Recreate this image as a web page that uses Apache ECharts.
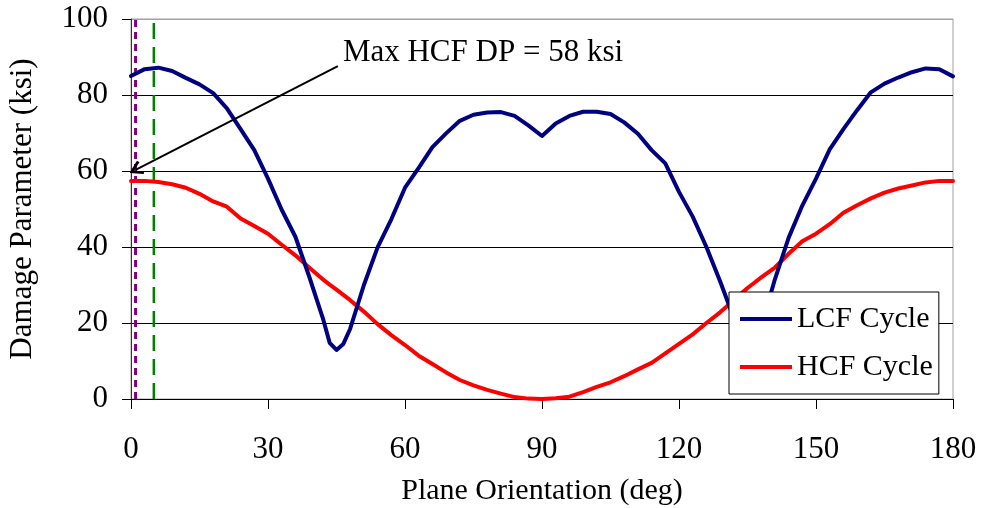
<!DOCTYPE html>
<html>
<head>
<meta charset="utf-8">
<script src="https://cdn.jsdelivr.net/npm/echarts@6/dist/echarts.min.js"></script>
<style>
html,body{margin:0;padding:0;background:#fff;}
#chart{width:983px;height:508px;}
</style>
</head>
<body>
<div id="chart"></div>
<script>
const angles = [0,3,6,9,12,15,18,21,24,27,30,33,36,39,42,43.5,45,46.5,48,51,54,57,60,63,66,69,72,75,78,81,84,87,90,93,96,99,102,105,108,111,114,117,120,123,126,129,132,133.5,135,136.5,138,141,144,147,150,153,156,159,162,165,168,171,174,177,180];
const lcfValues = [85,86.8,87.2,86.3,84.5,82.8,80.5,76.5,71,65.5,58,49.8,42.7,32.3,21.3,14.8,12.9,14.5,18.5,30,39.9,47.3,55.6,60.8,66.3,69.9,73.2,74.8,75.4,75.5,74.5,72,69.2,72.5,74.5,75.6,75.6,75,72.8,69.8,65.5,62,54.5,48,40,31,21.3,14.8,12.9,14.5,19,31.5,42.4,50.9,58,65.7,71,76,80.7,83,84.6,86,87,86.8,84.9];
const hcfValues = [57.4,57.4,57.1,56.5,55.6,54,52,50.6,47.5,45.5,43.5,40.6,37.8,34.6,31.5,30.1,28.8,27.4,26,23,19.7,16.8,14.2,11.4,9.2,7,5,3.6,2.4,1.4,0.5,0.1,0,0.2,0.6,1.8,3.2,4.4,6,7.8,9.5,12,14.5,17,20,22.8,26,27.6,29.2,30.6,32,34.6,38.2,41.5,43.5,46,49,51,52.8,54.3,55.4,56.2,57,57.4,57.4];
const xTicks = [0,30,60,90,120,150,180];
const yTicks = [0,20,40,60,80,100];
const purpleMarkerAngle = 1;
const greenMarkerAngle = 5;
const annotationText = 'Max HCF DP = 58 ksi';
const arrowFrom = [45.3, 87.6];
const arrowTo = [1, 60.3];
const labelAnchor = [46.4, 91];

const FONT = '"Liberation Serif", "Times New Roman", serif';
const chart = echarts.init(document.getElementById('chart'), null, {renderer:'canvas'});
const pair = (xs, ys) => xs.map((x,i)=>[x, ys[i]]);

chart.setOption({
  animation:false,
  backgroundColor:'#fff',
  textStyle:{fontFamily:FONT},
  grid:{left:131,right:30,top:19,bottom:109,show:true,containLabel:false,outerBoundsMode:'none',borderColor:'#a0a0a0',borderWidth:1,backgroundColor:'transparent'},
  legend:{
    orient:'vertical', left:729, top:292,
    data:['LCF Cycle','HCF Cycle'],
    icon:'rect', itemWidth:52, itemHeight:4, itemGap:18,
    padding:[12,6,12,11],
    backgroundColor:'#fff', borderColor:'#000', borderWidth:1,
    textStyle:{fontFamily:FONT,fontSize:30,color:'#000'},
    z:20
  },
  xAxis:{
    type:'value', min:xTicks[0], max:xTicks[xTicks.length-1], interval:30,
    name:'Plane Orientation (deg)', nameLocation:'middle', nameGap:77,
    nameTextStyle:{fontFamily:FONT,fontSize:30,color:'#000'},
    axisLine:{show:true,onZero:false,lineStyle:{color:'#000',width:1}},
    axisTick:{show:true,inside:false,length:10,lineStyle:{color:'#000'}},
    axisLabel:{fontFamily:FONT,fontSize:31,color:'#000',margin:35},
    splitLine:{show:false}
  },
  yAxis:{
    type:'value', min:yTicks[0], max:yTicks[yTicks.length-1], interval:20,
    name:'Damage Parameter (ksi)', nameLocation:'middle', nameGap:93,
    nameTextStyle:{fontFamily:FONT,fontSize:31,color:'#000'},
    axisLine:{show:true,lineStyle:{color:'#333',width:1}},
    axisTick:{show:true,inside:false,length:9,lineStyle:{color:'#000'}},
    axisLabel:{fontFamily:FONT,fontSize:31,color:'#000',margin:23},
    splitLine:{show:true,lineStyle:{color:['#000','#000','#000','#000','#000','#a0a0a0'],width:1}}
  },
  series:[
    {
      name:'purpleMarker', type:'line', data:[[purpleMarkerAngle,0],[purpleMarkerAngle,100]],
      showSymbol:false, symbol:'none', silent:true, z:3,
      lineStyle:{color:'#800080',width:3,type:[7,5]}
    },
    {
      name:'greenMarker', type:'line', data:[[greenMarkerAngle,0],[greenMarkerAngle,100]],
      showSymbol:false, symbol:'none', silent:true, z:3,
      lineStyle:{color:'#008000',width:2.5,type:[16,8]}
    },
    {
      name:'LCF Cycle', type:'line', data:pair(angles,lcfValues),
      showSymbol:false, symbol:'none', smooth:false, z:5,
      lineStyle:{color:'#000080',width:4,join:'round',cap:'round'}, itemStyle:{color:'#000080'}
    },
    {
      name:'HCF Cycle', type:'line', data:pair(angles,hcfValues),
      showSymbol:false, symbol:'none', smooth:false, z:4,
      lineStyle:{color:'#ff0000',width:4,join:'round',cap:'round'}, itemStyle:{color:'#ff0000'}
    },
    {
      name:'arrow', type:'lines', coordinateSystem:'cartesian2d', z:6,
      symbol:['none','path://M5,0 L10,10 L8.4,11.3 L5,4.2 L1.6,11.3 L0,10 Z'], symbolSize:[0,[15,14]],
      lineStyle:{color:'#000',width:2,opacity:1},
      data:[{coords:[arrowFrom, arrowTo]}]
    }
  ]
});

const p = chart.convertToPixel({gridIndex:0}, labelAnchor);
chart.setOption({
  graphic:[{
    type:'text', x:p[0], y:p[1], z:30,
    style:{text:annotationText, font:'31px ' + FONT, fill:'#000', textVerticalAlign:'middle', verticalAlign:'middle', textAlign:'left', align:'left'}
  }]
});
</script>
</body>
</html>
